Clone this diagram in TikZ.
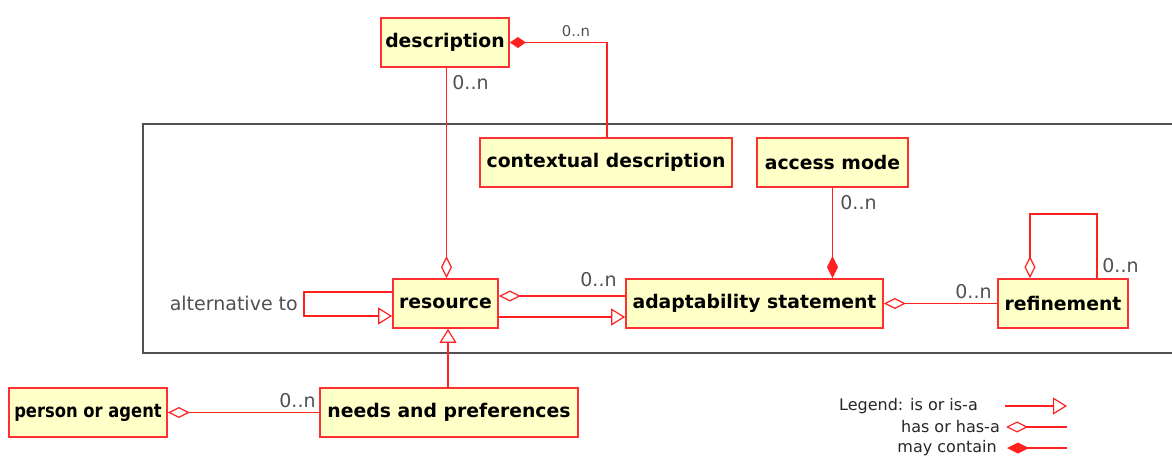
\documentclass[tikz,border=0pt]{standalone}
\usepackage{fontspec}
\usepackage{graphicx}
\setmainfont{DejaVu Sans}
\usetikzlibrary{arrows.meta}
\definecolor{boxfill}{HTML}{FFFFC8}
\definecolor{boxline}{HTML}{FF3030}
\definecolor{conn}{HTML}{FF2020}
\definecolor{lab}{HTML}{505050}
\definecolor{framec}{HTML}{505050}
\tikzset{
  box/.style={draw=boxline, fill=boxfill, line width=1.8pt, inner sep=0pt,
    font=\fontsize{18.8}{22}\selectfont\bfseries, text=black},
  link/.style={draw=conn, line width=1.5pt},
  isa/.style={link, -{Triangle[open, length=14pt, width=17pt, line width=1.2pt]}},
  hasa/.style={link, -{Diamond[open, length=22pt, width=11pt, line width=1.2pt]}},
  hasastart/.style={link, {Diamond[open, length=22pt, width=11pt, line width=1.2pt]}-},
  contain/.style={link, -{Diamond[length=22pt, width=11pt]}},
  containsmall/.style={link, -{Diamond[length=16pt, width=11pt]}},
  mult/.style={text=lab, font=\fontsize{19}{22}\selectfont, inner sep=0pt},
  multsmall/.style={text=lab, font=\fontsize{14.8}{17}\selectfont, inner sep=0pt},
  legtext/.style={text=black!85, font=\fontsize{16}{18}\selectfont, inner sep=0pt, anchor=east},
}
\begin{document}
\begin{tikzpicture}[x=1pt, y=-1pt]
\useasboundingbox (0,0) rectangle (1172,458);
\draw[framec, line width=1.5pt] (143,124) rectangle (1190,353);

\node[box, minimum width=128pt, minimum height=49pt] (desc) at (445,42.5) {description};
\node[box, minimum width=252pt, minimum height=49pt] (ctx) at (606,162.5) {contextual description};
\node[box, minimum width=151pt, minimum height=49pt] (acc) at (832.5,162.5) {access mode};
\node[box, minimum width=105pt, minimum height=49pt] (res) at (445.5,303.5) {resource};
\node[box, minimum width=257pt, minimum height=49pt] (adapt) at (754.5,303.5) {adaptability statement};
\node[box, minimum width=130pt, minimum height=49pt] (ref) at (1063,303.5) {refinement};
\node[box, minimum width=158pt, minimum height=49pt] (person) at (88,412.5) {\scalebox{0.87}[1]{person or agent}};
\node[box, minimum width=258pt, minimum height=49pt] (needs) at (449,412.5) {needs and preferences};

% description <- contextual description
\draw[containsmall] ([xshift=1pt]ctx.north) |- (desc.east);
\node[multsmall] (m1) at (576,31) {0..n};

% description -> resource
\draw[hasa] ([xshift=1.5pt]desc.south) -- ([xshift=1.5pt]desc.south |- res.north);
\node[mult] (m2) at (470.5,83) {0..n};

% access mode -> adaptability
\draw[contain] (acc.south) -- (acc.south |- adapt.north);
\node[mult] (m3) at (858.5,203) {0..n};

% resource <> adaptability
\draw[hasastart] ([yshift=7.5pt]res.east) -- ([yshift=7.5pt]res.east -| adapt.west);
\node[mult] (m4) at (598.5,280) {0..n};
\draw[isa] ([yshift=-13.5pt]res.east) -- ([yshift=-13.5pt]res.east -| adapt.west);

% resource self loop
\coordinate (l1) at (304,292);
\coordinate (l2) at (304,316);
\draw[isa] ([yshift=11.5pt]res.west) -- (l1) -- (l2) -- ([yshift=-12.5pt]res.west);
\node[mult, anchor=east] (alt) at (298,303) {alternative to};

% adaptability <> refinement
\draw[hasastart] (adapt.east) -- (ref.west);
\node[mult] (m5) at (973.5,292) {0..n};

% refinement self loop
\coordinate (r1) at (1097,214);
\coordinate (r2) at (1030,214);
\draw[hasa] ([xshift=34pt]ref.north) -- (r1) -- (r2) -- ([xshift=-33pt]ref.north);
\node[mult] (m6) at (1120.5,266) {0..n};

% needs -> resource
\draw[isa] ([xshift=-1pt]needs.north) -- ([xshift=-1pt]needs.north |- res.south);

% person <> needs
\draw[hasastart] (person.east) -- (needs.west);
\node[mult] (m7) at (297.5,401) {0..n};

% legend
\node[legtext] (lg1) at (978,406) {Legend: is or is-a};
\node[legtext] (lg2) at (1000,427) {has or has-a};
\node[legtext] (lg3) at (997,448) {may contain};
\coordinate (a1) at (1005,406);
\coordinate (a2) at (1067,406);
\draw[isa] (a1) -- (a2);
\coordinate (b1) at (1067,427);
\coordinate (b2) at (1006,427);
\draw[hasa] (b1) -- (b2);
\coordinate (c1) at (1067,448);
\coordinate (c2) at (1007,448);
\draw[contain] (c1) -- (c2);
\end{tikzpicture}
\end{document}
